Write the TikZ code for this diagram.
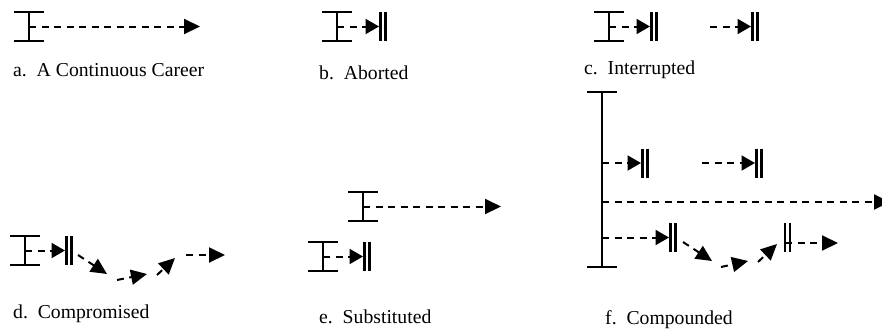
\documentclass[tikz,border=0pt]{standalone}
\usepackage{fontspec}
\setmainfont{Liberation Serif}
\usetikzlibrary{arrows.meta}

% entry mark (I-beam) centred on (#2,#3), named #1
\newcommand\careerentry[3]{%
  \coordinate (#1) at (#2,#3);
  \draw[bar] (#2-15,#3-14.5) -- (#2+15,#3-14.5)
             (#2,#3-14.5) -- (#2,#3+14.5)
             (#2-15,#3+14.5) -- (#2+15,#3+14.5);}
% exit mark (double bar) just right of (#2,#3), named #1
\newcommand\careerexit[3]{%
  \coordinate (#1) at (#2,#3);
  \draw[bar] (#2+1.5,#3-14.5) -- ++(0,29)
             (#2+6.5,#3-14.5) -- ++(0,29);}

\begin{document}
\begin{tikzpicture}[x=1pt,y=-1pt,
  bar/.style={line width=2.2pt},
  flow/.style={line width=2pt,dash pattern=on 7pt off 5.5pt},
  flowarrow/.style={flow,-{Triangle[length=16pt,width=15pt]}},
  exitarrow/.style={flow,-{Triangle[length=13.5pt,width=15pt]}},
  caption/.style={anchor=base west,inner sep=0pt,font=\fontsize{19.7}{24}\selectfont}]
\useasboundingbox (0,0) rectangle (882,330);

% a. continuous
\careerentry{a0}{29}{26.5}
\coordinate (a1) at (200,26.5);
\draw[flowarrow] (a0) -- (a1);
\node[caption] (la) at (13,76) {a.~~A Continuous Career};

% b. aborted
\careerentry{b0}{337}{26.5}
\careerexit{b1}{379}{26.5}
\draw[exitarrow] (b0) -- (b1);
\node[caption] (lb) at (319,79) {b.~~Aborted};

% c. interrupted
\careerentry{c0}{609}{26.5}
\careerexit{c1}{650}{26.5}
\draw[exitarrow] (c0) -- (c1);
\coordinate (c2) at (710,26.5);
\careerexit{c3}{751}{26.5}
\draw[exitarrow] (c2) -- (c3);
\node[caption] (lc) at (584,74) {c.~~Interrupted};

% d. compromised
\careerentry{d0}{25}{250.5}
\careerexit{d1}{65}{250.5}
\draw[exitarrow] (d0) -- (d1);
\coordinate (d2) at (78,255);  \coordinate (d3) at (107,274);
\coordinate (d4) at (117,280); \coordinate (d5) at (147,274);
\coordinate (d6) at (157,275); \coordinate (d7) at (175,258);
\coordinate (d8) at (186,255); \coordinate (d9) at (225,255);
\draw[flowarrow] (d2) -- (d3);
\draw[flowarrow] (d4) -- (d5);
\draw[flowarrow] (d6) -- (d7);
\draw[flowarrow] (d8) -- (d9);
\node[caption] (ld) at (13,318) {d.~~Compromised};

% e. substituted
\careerentry{e0}{363}{206.5}
\coordinate (e1) at (501,206.5);
\draw[flowarrow] (e0) -- (e1);
\careerentry{e2}{323}{256.5}
\careerexit{e3}{363}{256.5}
\draw[exitarrow] (e2) -- (e3);
\node[caption] (le) at (319,323) {e.~~Substituted};

% f. compounded
\coordinate (fT) at (602,92);
\coordinate (fB) at (602,267);
\draw[bar] (587,92) -- (617,92) (fT) -- (fB) (587,267) -- (617,267);
\coordinate (f0) at (602,163);
\careerexit{f1}{641}{163}
\draw[exitarrow] (f0) -- (f1);
\coordinate (f2) at (702,163);
\careerexit{f3}{755}{163}
\draw[exitarrow] (f2) -- (f3);
\coordinate (f4) at (602,202);
\coordinate (f5) at (890,202);
\draw[flowarrow] (f4) -- (f5);
\coordinate (f6) at (602,237.5);
\careerexit{f7}{669}{237.5}
\draw[exitarrow] (f6) -- (f7);
\coordinate (f8) at (683,242);  \coordinate (f9) at (712,261);
\coordinate (f10) at (721,267); \coordinate (f11) at (748,261);
\coordinate (f12) at (758,262); \coordinate (f13) at (777,244);
\draw[flowarrow] (f8) -- (f9);
\draw[flowarrow] (f10) -- (f11);
\draw[flowarrow] (f12) -- (f13);
\careerexit{f14}{783.5}{237.5}
\coordinate (f15) at (785,243);
\coordinate (f16) at (838,243);
\draw[flowarrow] (f15) -- (f16);
\node[caption] (lf) at (605,324) {f.~~Compounded};
\end{tikzpicture}
\end{document}
